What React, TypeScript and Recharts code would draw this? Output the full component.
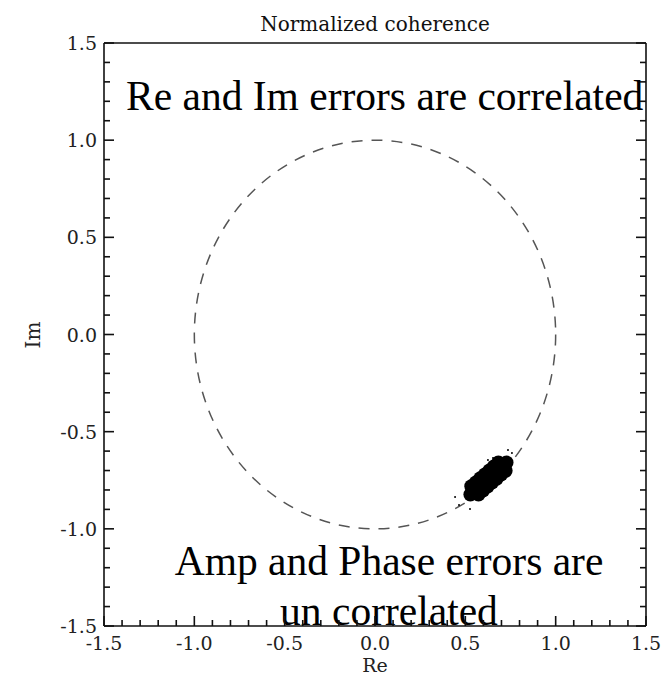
import React from "react";
import { ScatterChart, Scatter, XAxis, YAxis, ReferenceArea, Customized } from "recharts";

// axis values
const majorTicks = [-1.5, -1.0, -0.5, 0.0, 0.5, 1.0, 1.5];
const minorTicks = [
  -1.5, -1.4, -1.3, -1.2, -1.1, -1.0, -0.9, -0.8, -0.7, -0.6, -0.5, -0.4, -0.3, -0.2, -0.1, 0.0,
  0.1, 0.2, 0.3, 0.4, 0.5, 0.6, 0.7, 0.8, 0.9, 1.0, 1.1, 1.2, 1.3, 1.4, 1.5,
];
const axisDomain = [-1.5, 1.5];

// unit circle |coherence| = 1, given by its bounding box
const unitCircleRe = [-1, 1];
const unitCircleIm = [-1, 1];

// dense core of the coherence samples (Re, Im)
const cloudRe = [
  0.528, 0.553, 0.578, 0.603, 0.628, 0.653, 0.678, 0.703, 0.728,
  0.573, 0.598, 0.623, 0.648, 0.673, 0.698, 0.723,
  0.533, 0.558, 0.583, 0.608, 0.633, 0.658, 0.683,
];
const cloudIm = [
  -0.823, -0.802, -0.782, -0.761, -0.741, -0.721, -0.7, -0.68, -0.659,
  -0.823, -0.803, -0.782, -0.762, -0.742, -0.721, -0.701,
  -0.781, -0.761, -0.74, -0.72, -0.7, -0.679, -0.659,
];
// a few stray samples around the core
const strayRe = [0.625, 0.653, 0.736, 0.758, 0.73, 0.742, 0.465, 0.526, 0.443];
const strayIm = [-0.646, -0.636, -0.594, -0.61, -0.682, -0.702, -0.877, -0.898, -0.836];

const cloud = cloudRe.map((re, i) => ({ re, im: cloudIm[i] }));
const strays = strayRe.map((re, i) => ({ re, im: strayIm[i] }));

const W = 654;
const H = 675;
const serif = "DejaVu Serif";
const ink = "#111";
const fmt = (v: number) => v.toFixed(1);
const majorSet = new Set(majorTicks.map(fmt));
const tickLen = (v: number) => (majorSet.has(fmt(v)) ? 10 : 6);

// tick renderers: lines point into the plot, labels only on bottom / left
function BottomTick(p: any) {
  const v = p.payload.value;
  const major = majorSet.has(fmt(v));
  return (
    <g>
      <line x1={p.x} y1={p.y} x2={p.x} y2={p.y - tickLen(v)} stroke={ink} strokeWidth={1.6} />
      {major && (
        <text x={p.x} y={p.y + 24} textAnchor="middle" fontFamily={serif} fontSize={19} fill="#222">
          {fmt(v)}
        </text>
      )}
    </g>
  );
}
function TopTick(p: any) {
  const v = p.payload.value;
  return <line x1={p.x} y1={p.y} x2={p.x} y2={p.y + tickLen(v)} stroke={ink} strokeWidth={1.6} />;
}
function LeftTick(p: any) {
  const v = p.payload.value;
  const major = majorSet.has(fmt(v));
  return (
    <g>
      <line x1={p.x} y1={p.y} x2={p.x + tickLen(v)} y2={p.y} stroke={ink} strokeWidth={1.6} />
      {major && (
        <text x={p.x - 7} y={p.y + 7} textAnchor="end" fontFamily={serif} fontSize={19} fill="#222">
          {fmt(v)}
        </text>
      )}
    </g>
  );
}
function RightTick(p: any) {
  const v = p.payload.value;
  return <line x1={p.x} y1={p.y} x2={p.x - tickLen(v)} y2={p.y} stroke={ink} strokeWidth={1.6} />;
}

function Annotations() {
  return (
    <g>
      <text x={367} y={31} textAnchor="middle" fontFamily={serif} fontSize={20} fill="#111">
        Normalized coherence
      </text>
      <text x={367} y={672} textAnchor="middle" fontFamily={serif} fontSize={19} fill="#222">
        Re
      </text>
      <text
        x={32}
        y={335}
        textAnchor="middle"
        transform="rotate(-90 32 335)"
        fontFamily={serif}
        fontSize={20}
        fill="#222"
      >
        Im
      </text>
      <text x={118} y={110} fontFamily="Liberation Serif" fontSize={41.5} fill="#000">
        Re and Im errors are correlated
      </text>
      <text x={381} y={575} textAnchor="middle" fontFamily="Liberation Serif" fontSize={41.5} fill="#000">
        Amp and Phase errors are
      </text>
      <text x={381} y={625} textAnchor="middle" fontFamily="Liberation Serif" fontSize={41.5} fill="#000">
        un correlated
      </text>
    </g>
  );
}

const lineStyle = { stroke: ink, strokeWidth: 1.6 };
const common = {
  type: "number" as const,
  domain: axisDomain,
  ticks: minorTicks,
  interval: 0 as const,
  tickSize: 0,
  tickMargin: 0,
  tickLine: false,
  axisLine: lineStyle,
  allowDataOverflow: true,
};

export default function App() {
  return (
    <div style={{ marginTop: -8, height: H }}>
      <ScatterChart width={W} height={H} margin={{ top: 42, right: 15, bottom: 48, left: 95 }}>
        <XAxis xAxisId="main" dataKey="re" height={1} tick={<BottomTick />} {...common} />
        <YAxis yAxisId="main" dataKey="im" width={1} tick={<LeftTick />} {...common} />
        <XAxis xAxisId="top" orientation="top" height={1} tick={<TopTick />} {...common} />
        <YAxis yAxisId="right" orientation="right" width={1} tick={<RightTick />} {...common} />

        <ReferenceArea
          xAxisId="main"
          yAxisId="main"
          x1={unitCircleRe[0]}
          x2={unitCircleRe[1]}
          y1={unitCircleIm[0]}
          y2={unitCircleIm[1]}
          shape={(p: any) => (
            <ellipse
              cx={p.x + p.width / 2}
              cy={p.y + p.height / 2}
              rx={Math.abs(p.width) / 2}
              ry={Math.abs(p.height) / 2}
              fill="none"
              stroke="#555"
              strokeWidth={1.5}
              strokeDasharray="11 9"
            />
          )}
        />

        <Scatter
          xAxisId="main"
          yAxisId="main"
          data={cloud}
          isAnimationActive={false}
          shape={(p: any) => <circle cx={p.cx} cy={p.cy} r={7} fill="#000" />}
        />
        <Scatter
          xAxisId="main"
          yAxisId="main"
          data={strays}
          isAnimationActive={false}
          shape={(p: any) => <circle cx={p.cx} cy={p.cy} r={1} fill="#000" />}
        />
        <Customized component={<Annotations />} />
      </ScatterChart>
    </div>
  );
}
